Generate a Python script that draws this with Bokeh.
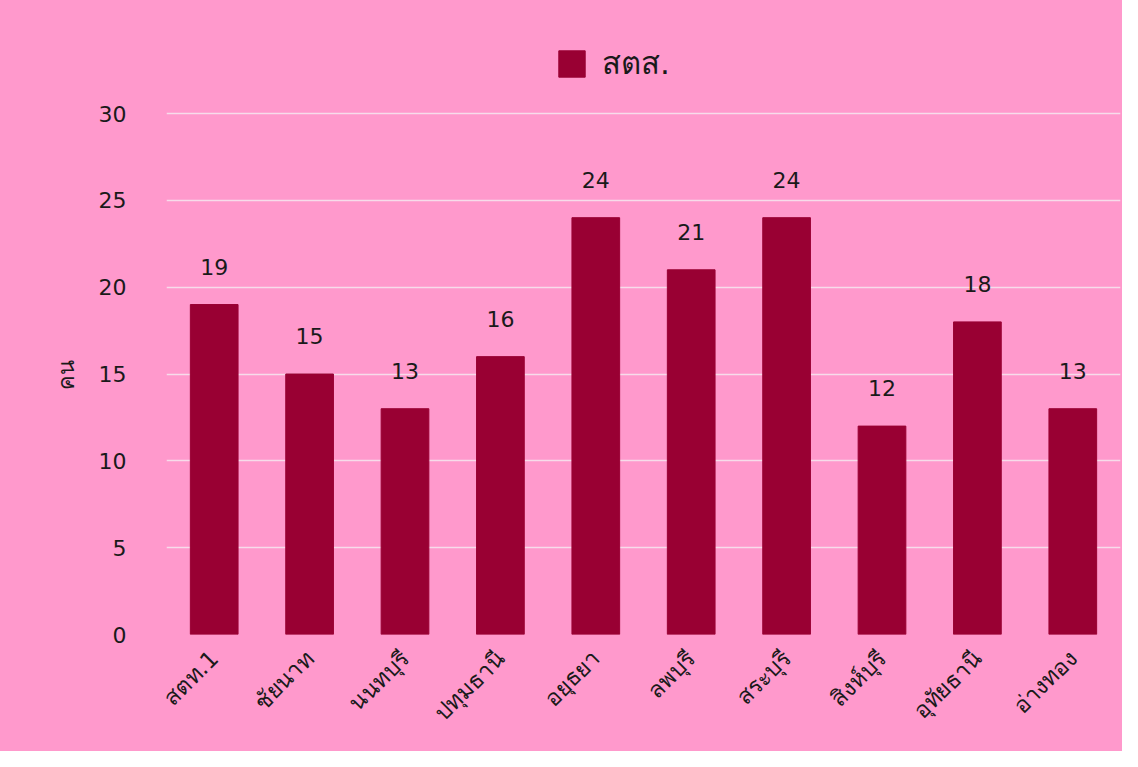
import math
from bokeh.plotting import figure
from bokeh.models import ColumnDataSource, LabelSet, Legend, LegendItem, FactorRange
from bokeh.core.properties import value
from bokeh.embed import file_html
from bokeh.resources import INLINE

categories = ["สตท.1", "ชัยนาท", "นนทบุรี", "ปทุมธานี", "อยุธยา", "ลพบุรี", "สระบุรี", "สิงห์บุรี", "อุทัยธานี", "อ่างทอง"]
values = [19, 15, 13, 16, 24, 21, 24, 12, 18, 13]
y_ticks = [0, 5, 10, 15, 20, 25, 30]
series_name = "สตส."
y_label = "คน"

FONT = "DejaVu Sans"
BG = "#FF99CC"
BAR = "#990033"
TXT = "#1a1a1a"

W, H = 1122, 751
TOP, BOTTOM, LEFT, RIGHT = 45, 117, 166, 2
frame_h = H - TOP - BOTTOM          # 589 px
px_per_unit = (634 - 113) / 30.0    # gridline 30 sits 521 px above 0
y_max = frame_h / px_per_unit

src = ColumnDataSource(dict(cat=categories, val=values, lab=[str(v) for v in values]))

p = figure(x_range=FactorRange(*categories), y_range=(0, y_max), width=W, height=H,
           output_backend="svg", toolbar_location=None,
           background_fill_color=BG, background_fill_alpha=0,
           border_fill_color=BG, border_fill_alpha=0,
           min_border_left=LEFT, min_border_right=RIGHT, min_border_top=TOP, min_border_bottom=BOTTOM)
p.styles = {"background-color": BG}
p.outline_line_color = None

r = p.vbar(x="cat", top="val", width=0.5, source=src, color=BAR)

labels = LabelSet(x="cat", y="val", text="lab", source=src, y_offset=30,
                  text_align="center", text_baseline="bottom",
                  text_font=value(FONT), text_font_size="22px", text_color=TXT)
p.add_layout(labels)

p.yaxis.ticker = y_ticks
p.ygrid.grid_line_color = "#F7DCEA"
p.ygrid.grid_line_width = 1.5
p.xgrid.grid_line_color = None
for ax in (p.xaxis, p.yaxis):
    ax.axis_line_color = None
    ax.major_tick_line_color = None
    ax.minor_tick_line_color = None
    ax.major_label_text_font = FONT
    ax.major_label_text_color = TXT
p.yaxis.major_label_text_font_size = "22px"
p.xaxis.major_label_text_font_size = "23px"
p.xaxis.major_label_orientation = math.pi / 4
p.xaxis.major_label_standoff = 14
p.yaxis.major_label_standoff = 34
# trailing no-break spaces shift the visible label down to sit beside the 15 tick
p.yaxis.axis_label = y_label + "\u00a0" * 10
p.yaxis.axis_label_text_font = FONT
p.yaxis.axis_label_text_font_size = "22px"
p.yaxis.axis_label_text_font_style = "normal"
p.yaxis.axis_label_text_color = TXT
p.yaxis.axis_label_standoff = 17

legend = Legend(items=[LegendItem(label=series_name, renderers=[r])],
                location=(389, 546), orientation="horizontal",
                background_fill_alpha=0, border_line_color=None,
                label_text_font=FONT, label_text_font_size="31px",
                label_text_color=TXT, label_standoff=14,
                glyph_width=33, glyph_height=33, margin=0, padding=0)
p.add_layout(legend)

open("out.html", "w").write(file_html(p, INLINE))
